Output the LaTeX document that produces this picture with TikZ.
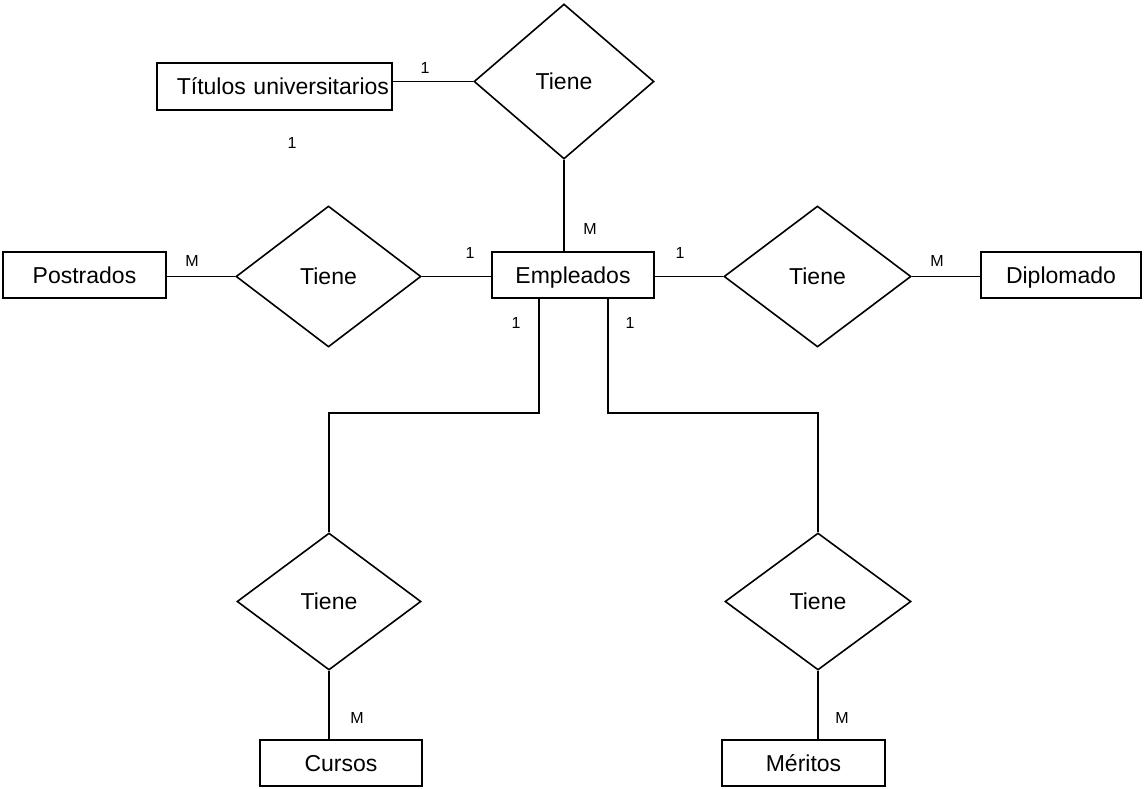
\documentclass[tikz,border=0pt]{standalone}
\usepackage{fontspec}
\setmainfont{Liberation Sans}
\usetikzlibrary{shapes.geometric}
\begin{document}
\begin{tikzpicture}[x=1pt,y=-1pt,line width=1.6pt,
  entity/.style={draw,rectangle,inner sep=0pt,text height=16.5pt,text depth=0pt,font=\fontsize{23}{25}\selectfont},
  rel/.style={draw,diamond,inner sep=0pt,text height=16.5pt,text depth=0pt,font=\fontsize{23}{25}\selectfont},
  card/.style={inner sep=0pt,font=\fontsize{16}{18}\selectfont}]
\useasboundingbox[fill=white] (0,0) rectangle (1144,789);
% entities
\node[entity,minimum height=47pt,text width=229pt,inner xsep=3pt,align=right] (tit) at (274.5,86.5) {Títulos universitarios};
\node[entity,minimum width=163pt,minimum height=46pt] (pos) at (84.5,275) {Postrados};
\node[entity,minimum width=162pt,minimum height=46pt] (emp) at (573,275) {Empleados};
\node[entity,minimum width=160pt,minimum height=46pt] (dip) at (1061,275) {Diplomado};
\node[entity,minimum width=162pt,minimum height=46pt] (cur) at (341,763) {Cursos};
\node[entity,minimum width=163pt,minimum height=46pt] (mer) at (803.5,763) {Méritos};
% relationships
\node[rel,minimum width=180pt,minimum height=155pt] (td) at (564,81.5) {Tiene};
\node[rel,minimum width=185pt,minimum height=141pt] (ld) at (328.5,276.5) {Tiene};
\node[rel,minimum width=187pt,minimum height=141pt] (rd) at (817.5,276.5) {Tiene};
\node[rel,minimum width=184pt,minimum height=137pt] (bl) at (329,601.5) {Tiene};
\node[rel,minimum width=186pt,minimum height=137pt] (br) at (818,601.5) {Tiene};
% connectors
\draw (td.west -| tit.east) -- (td.west);
\draw (td.south) -- (td.south |- emp.north);
\draw (pos.east |- ld.west) -- (ld.west);
\draw (ld.east) -- (ld.east -| emp.west);
\draw (emp.east |- rd.west) -- (rd.west);
\draw (rd.east) -- (rd.east -| dip.west);
\coordinate (k1) at (539,413);
\coordinate (k2) at (608,413);
\draw (k1 |- emp.south) -- (k1) -| (bl.north);
\draw (k2 |- emp.south) -- (k2) -| (br.north);
\draw (bl.south) -- (bl.south |- cur.north);
\draw (br.south) -- (br.south |- mer.north);
% cardinalities
\node[card] (c1) at (425,68) {1};
\node[card] (c2) at (292,143) {1};
\node[card] (c3) at (590,229) {M};
\node[card] (c4) at (192,261) {M};
\node[card] (c5) at (470,253) {1};
\node[card] (c6) at (680,253) {1};
\node[card] (c7) at (937,261) {M};
\node[card] (c8) at (516,323) {1};
\node[card] (c9) at (630,323) {1};
\node[card] (c10) at (357,718) {M};
\node[card] (c11) at (842,718) {M};
\end{tikzpicture}
\end{document}
